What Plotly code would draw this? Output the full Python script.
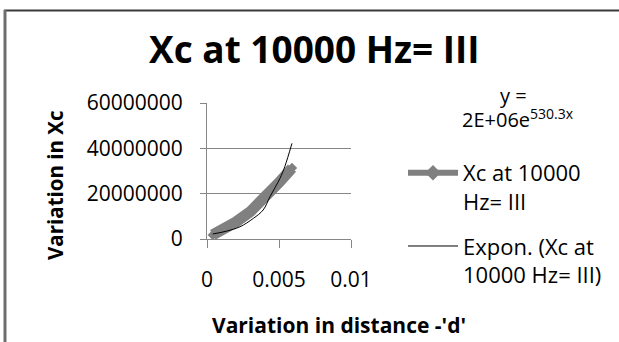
import plotly.graph_objects as go

# Data
d_values = [0.0004, 0.001, 0.002, 0.003, 0.004, 0.005, 0.0059]
xc_values = [1.8e6, 3.6e6, 7.5e6, 12.0e6, 18.0e6, 24.9e6, 31.3e6]

trend_x = [0.0004, 0.00137, 0.00229, 0.00322, 0.0039, 0.00438, 0.00507, 0.0054, 0.0059]
trend_y = [2.2e6, 3.5e6, 5.4e6, 9.1e6, 12.8e6, 18.7e6, 26.8e6, 31.9e6, 42.2e6]

y_ticks = [0, 20000000, 40000000, 60000000]
y_tick_labels = ["0", "20000000", "40000000", "60000000"]
x_ticks = [0, 0.005, 0.01]
x_tick_labels = ["0", "0.005", "0.01"]

title_text = "Xc at 10000 Hz= III"
x_title = "Variation in distance -'d'"
y_title = "Variation in Xc"
series_name = "Xc at 10000<br>Hz= III"
trend_name = "Expon. (Xc at<br>10000 Hz= III)"

W, H = 619, 342
L, R, T, B = 207, 351, 103, 239


def px(x):
    return (x - L) / (R - L)


def py(y):
    return (B - y) / (B - T)


FONT = "Open Sans"
GRAY = "#808080"

fig = go.Figure()
# data series (thick gray line, markers hidden under the line)
fig.add_trace(go.Scatter(
    x=d_values, y=xc_values, name=series_name, mode="lines+markers",
    line=dict(color=GRAY, width=11),
    marker=dict(symbol="diamond", size=8, color=GRAY),
    showlegend=False, legendgroup="a",
))
# legend entry for the series (thinner line, as the reference legend shows)
fig.add_trace(go.Scatter(
    x=[None], y=[None], name=series_name, mode="lines+markers",
    line=dict(color=GRAY, width=6),
    marker=dict(symbol="diamond", size=12, color=GRAY),
    legendgroup="a",
))
fig.add_trace(go.Scatter(
    x=trend_x, y=trend_y, name=trend_name, mode="lines",
    line=dict(color="black", width=1, shape="spline"),
    legendgroup="b",
))

fig.update_layout(
    width=W, height=H,
    margin=dict(l=L, r=W - R, t=T, b=H - B, pad=0),
    paper_bgcolor="white", plot_bgcolor="white",
    font=dict(family=FONT, color="black", size=21),
    showlegend=True,
    legend=dict(
        x=px(403), y=py(152), xanchor="left", yanchor="top",
        font=dict(family=FONT, size=22, color="black"),
        itemwidth=50, tracegroupgap=13, valign="top", bgcolor="rgba(0,0,0,0)",
        maxheight=320,
    ),
    xaxis=dict(
        range=[0, 0.01], tickvals=x_ticks, ticktext=x_tick_labels,
        showgrid=False, zeroline=False, showline=True, linecolor="#868686", linewidth=1,
        ticks="outside", ticklen=8, tickcolor="#868686",
        tickfont=dict(family=FONT, size=21, color="black"), ticklabelstandoff=14,
    ),
    yaxis=dict(
        range=[0, 60000000], tickvals=y_ticks, ticktext=y_tick_labels,
        showgrid=True, gridcolor="#868686", gridwidth=1, zeroline=False,
        showline=True, linecolor="#868686", linewidth=1,
        ticks="outside", ticklen=6, tickcolor="#868686",
        tickfont=dict(family=FONT, size=21, color="black"), ticklabelstandoff=13,
    ),
)

annotations = [
    dict(text=f"<b>{title_text}</b>", x=px(314), y=py(48), font=dict(size=37, family=FONT)),
    dict(text=f"<b>{x_title}</b>", x=px(339), y=py(325), font=dict(size=21, family=FONT)),
    dict(text=f"<b>{y_title}</b>", x=px(55), y=py(185), textangle=-90, font=dict(size=20.5, family=FONT)),
    dict(text="y =", x=px(513), y=py(95), font=dict(size=20, family=FONT)),
    dict(text="2E+06e<sup>530.3x</sup>", x=px(518), y=py(118), font=dict(size=20, family=FONT)),
]
for a in annotations:
    a.update(xref="paper", yref="paper", showarrow=False, xanchor="center", yanchor="middle")
    fig.add_annotation(**a)

# Chart-area frame (top and left edges visible in the reference)
fig.add_shape(type="line", xref="paper", yref="paper", x0=px(4), x1=px(640), y0=py(10.5), y1=py(10.5),
              line=dict(color="#3a3a3a", width=2))
fig.add_shape(type="line", xref="paper", yref="paper", x0=px(5), x1=px(5), y0=py(10), y1=py(360),
              line=dict(color="#6e6e6e", width=3))

fig.write_html("out.html")
